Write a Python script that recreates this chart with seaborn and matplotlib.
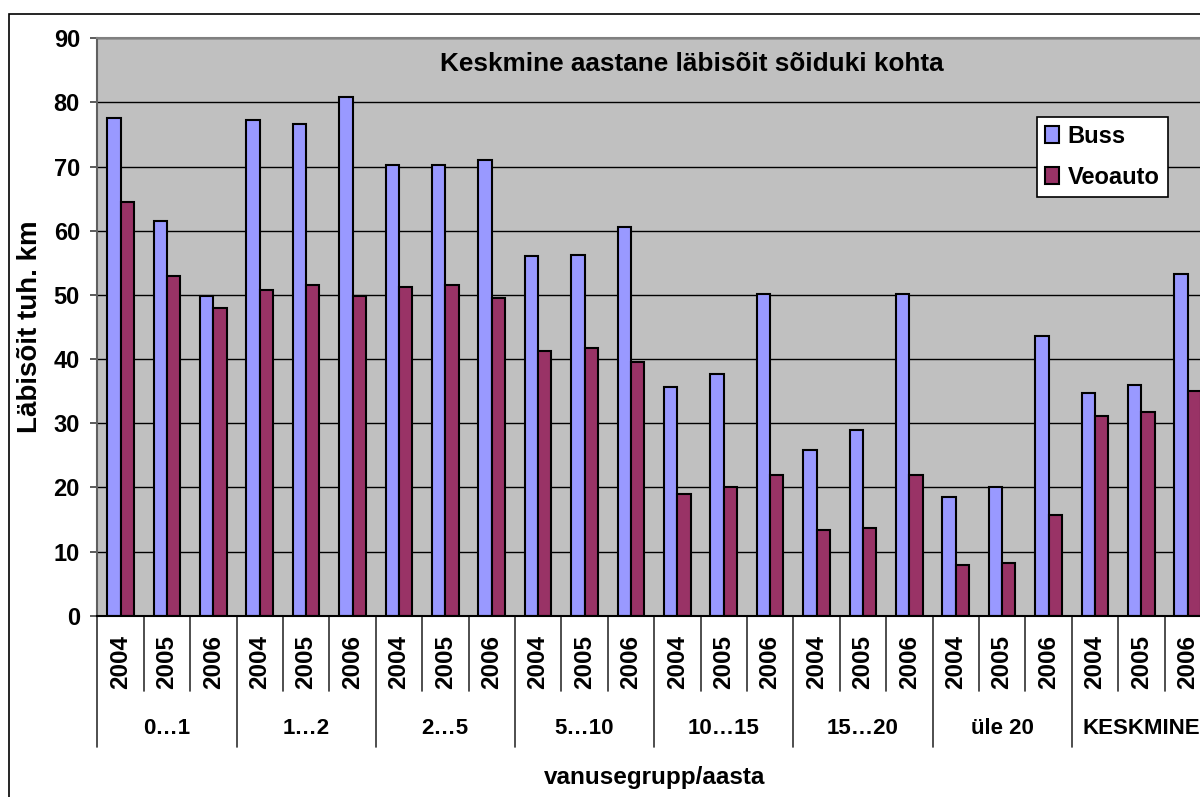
import matplotlib
matplotlib.use("Agg")
import matplotlib.pyplot as plt
import matplotlib.transforms as mtransforms
from matplotlib.patches import Rectangle
import seaborn as sns
import pandas as pd

# Andmed: keskmine aastane läbisõit (tuh. km)
vanusegrupid = ['0…1', '1…2', '2…5', '5…10', '10…15', '15…20', 'üle 20', 'KESKMINE']
aastad = ['2004', '2005', '2006']
buss = [77.5, 61.6, 49.9, 77.3, 76.7, 80.9, 70.2, 70.3, 71.0, 56.0, 56.2, 60.6,
        35.6, 37.6, 50.1, 25.9, 28.9, 50.1, 18.5, 20.1, 43.6, 34.7, 35.9, 53.2]
veoauto = [64.5, 52.9, 48.0, 50.8, 51.5, 49.9, 51.3, 51.5, 49.5, 41.2, 41.8, 39.6,
           19.0, 20.0, 21.9, 13.4, 13.6, 21.9, 7.9, 8.2, 15.7, 31.2, 31.8, 35.1]

kategooriad = [f'{g}|{a}' for g in vanusegrupid for a in aastad]
df = pd.DataFrame({
    'kategooria': kategooriad * 2,
    'labisoit': buss + veoauto,
    'liik': ['Buss'] * len(buss) + ['Veoauto'] * len(veoauto),
})

sns.set_style('white')
plt.rcParams['font.family'] = ['Liberation Sans', 'DejaVu Sans']
plt.rcParams['font.weight'] = 'bold'
plt.rcParams['text.color'] = 'black'
plt.rcParams['axes.labelcolor'] = 'black'
plt.rcParams['xtick.color'] = 'black'
plt.rcParams['ytick.color'] = 'black'

W, H = 1200, 797
fig = plt.figure(figsize=(12, 7.97), dpi=100)
ax = fig.add_axes([97.3 / W, 1 - 615.7 / H, 1113.6 / W, 577.4 / H])
ax.set_facecolor('#C0C0C0')

sns.barplot(data=df, x='kategooria', y='labisoit', hue='liik', order=kategooriad,
            palette={'Buss': '#9999FF', 'Veoauto': '#993366'},
            width=0.575, edgecolor='black', linewidth=1.5, saturation=1, ax=ax)

ax.set_ylim(0, 90)
ax.set_yticks(range(0, 91, 10))
ax.set_xlim(-0.5, len(kategooriad) - 0.5)
ax.set_axisbelow(True)
ax.yaxis.grid(True, color='black', linewidth=1)
ax.xaxis.grid(False)

for s in ['top', 'right']:
    ax.spines[s].set_color('#808080')
    ax.spines[s].set_linewidth(1.5)
ax.spines['left'].set_color('#606060')
ax.spines['left'].set_linewidth(1.5)
ax.spines['bottom'].set_color('black')
ax.spines['bottom'].set_linewidth(1.5)

ax.tick_params(axis='y', direction='out', length=5, width=1.2, color='#404040',
               labelcolor='black', pad=7.5, labelsize=17, left=True)
for t in ax.get_yticklabels():
    t.set_fontweight('bold')

# aastad x-teljel
ax.set_xticks(range(len(kategooriad)))
ax.set_xticklabels(aastad * len(vanusegrupid), rotation=90, fontsize=17.5, fontweight='bold')
ax.tick_params(axis='x', length=0, pad=14, labelcolor='black')

trans = mtransforms.blended_transform_factory(ax.transData, ax.transAxes)
for i in range(len(kategooriad) + 1):
    alumine = -0.2274 if i % 3 == 0 else -0.1304
    ax.plot([i - 0.5, i - 0.5], [0, alumine], color='#303030', lw=1.2,
            transform=trans, clip_on=False)
for j, g in enumerate(vanusegrupid):
    ax.text(3 * j + 1, -0.1945, g, transform=trans, ha='center', va='center',
            fontsize=16, fontweight='bold', color='black')

ax.set_xlabel('vanusegrupp/aasta', fontsize=17.5, fontweight='bold', va='center')
ax.xaxis.set_label_coords(0.5, -0.281)
ax.set_ylabel('Läbisõit tuh. km', fontsize=20, fontweight='bold', va='center')
ax.yaxis.set_label_coords((30 - 97.3) / 1113.6, 0.5)

ax.set_title('Keskmine aastane läbisõit sõiduki kohta', fontsize=18.8, fontweight='bold',
             color='black', pad=0, x=(692 - 97.3) / 1113.6, y=(615.7 - 64) / 577.4,
             va='center')

handles, labels = ax.get_legend_handles_labels()
leg = ax.legend(handles, labels, loc='upper left',
                bbox_to_anchor=(1037 / W, 1 - 116.7 / H), bbox_transform=fig.transFigure,
                borderaxespad=0, fancybox=False, framealpha=1, edgecolor='black',
                prop={'size': 17, 'weight': 'bold'}, handlelength=0.6, handleheight=0.7,
                handletextpad=0.35, labelspacing=0.75, borderpad=0.35, title=None)
leg.get_frame().set_linewidth(1.2)
for h in leg.legend_handles:
    h.set_edgecolor('black')
    h.set_linewidth(1.5)
for t in leg.get_texts():
    t.set_color('black')

# diagrammi välispiir
fig.add_artist(Rectangle((9 / W, -0.1), 2, 1 - 14 / H + 0.1, transform=fig.transFigure,
                         fill=False, edgecolor='black', linewidth=1.2))

fig.savefig('out.png', dpi=100, facecolor='white')
